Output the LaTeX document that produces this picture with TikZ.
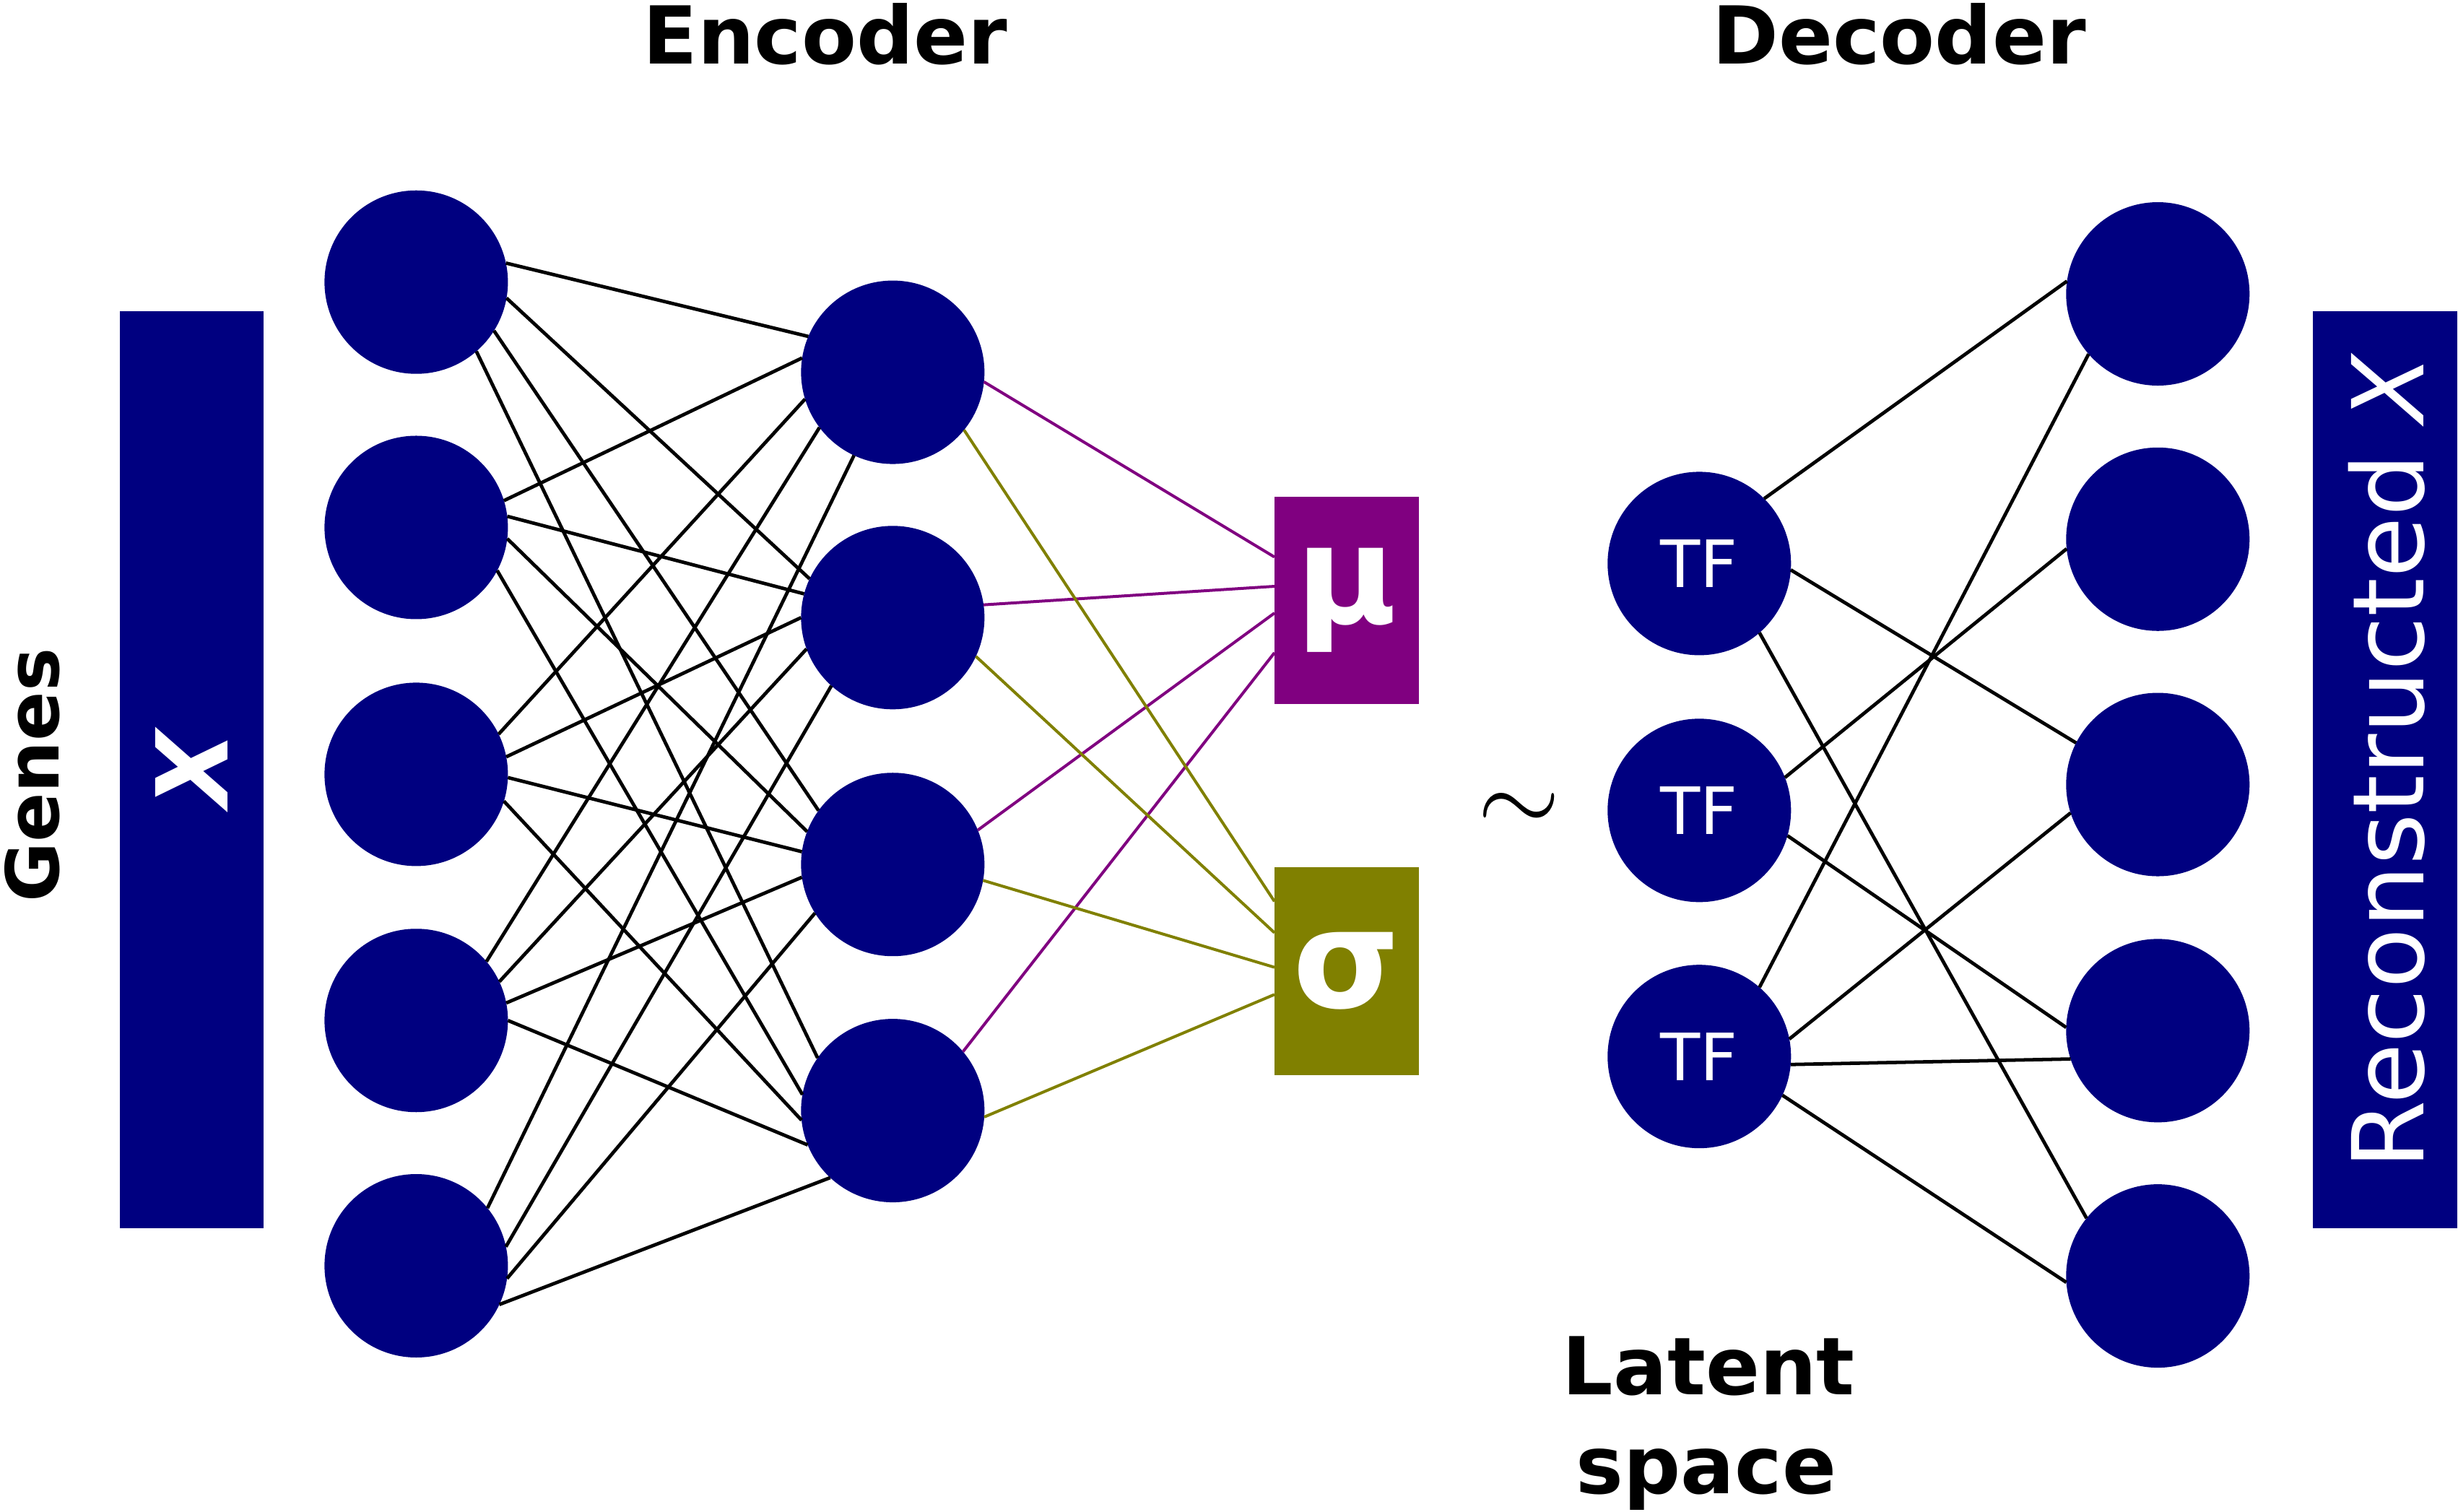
\documentclass[tikz,border=0pt]{standalone}
\usepackage{fontspec}
\setmainfont{DejaVu Sans}[BoldFont={DejaVu Sans Bold},ItalicFont={DejaVu Sans Oblique},BoldItalicFont={DejaVu Sans Bold Oblique}]
\definecolor{navy}{RGB}{0,0,128}
\definecolor{meanpurple}{RGB}{128,0,128}
\definecolor{varolive}{RGB}{128,128,0}
\begin{document}
\begin{tikzpicture}[
  unit/.style={circle, fill=navy, minimum size=2.34cm, inner sep=0pt, outer sep=0pt},
  tfunit/.style={unit, text=white, font=\fontsize{23.7}{28}\selectfont},
  statbox/.style={rectangle, minimum width=1.84cm, minimum height=2.65cm, inner sep=0pt, outer sep=0pt, text=white, font=\fontsize{50}{60}\selectfont\bfseries},
  databar/.style={rectangle, fill=navy, minimum width=1.84cm, minimum height=11.70cm, inner sep=0pt, outer sep=0pt},
  title/.style={font=\fontsize{29}{35}\selectfont\bfseries},
  link/.style={line width=1.25pt},
  statlink/.style={line width=1.05pt}
]
\useasboundingbox (0,0) rectangle (31.36,19.29);
% input and reconstruction
\node[databar] (xin) at (2.445,9.47) {};
\node[databar] (xout) at (30.43,9.47) {};
\node[rotate=90, text=white, font=\fontsize{36}{40}\selectfont\bfseries\itshape] (xlabel) at (xin.center) {X};
\node[rotate=90, text=white, font=\fontsize{36}{40}\selectfont] (reclabel) at (30.45,9.58) {Reconstructed \textit{X}};
\node[rotate=90, anchor=base, font=\fontsize{26.5}{32}\selectfont\bfseries] (genes) at (0.75,9.40) {Genes};
% titles
\node[title, anchor=base] (enc) at (10.53,18.47) {Encoder};
\node[title, anchor=base] (dec) at (24.23,18.47) {Decoder};
\node[title, anchor=base] (latent) at (21.80,1.50) {Latent};
\node[title, anchor=base] (space) at (21.77,0.23) {space};
% encoder units
\node[unit] (a1) at (5.31,15.69) {};
\node[unit] (a2) at (5.31,12.56) {};
\node[unit] (a3) at (5.31,9.41) {};
\node[unit] (a4) at (5.31,6.27) {};
\node[unit] (a5) at (5.31,3.14) {};
\node[unit] (b1) at (11.39,14.54) {};
\node[unit] (b2) at (11.39,11.41) {};
\node[unit] (b3) at (11.39,8.26) {};
\node[unit] (b4) at (11.39,5.12) {};
% latent parameters
\node[statbox, fill=meanpurple] (mu) at (17.18,11.63) {μ};
\node[statbox, fill=varolive] (sigma) at (17.18,6.90) {σ};
\node[scale=1.55, anchor=base] (tilde) at (19.38,8.67) {\Huge$\sim$};
% decoder units
\node[tfunit] (tf1) at (21.68,12.10) {TF};
\node[tfunit] (tf2) at (21.68,8.95) {TF};
\node[tfunit] (tf3) at (21.68,5.81) {TF};
\node[unit] (o1) at (27.53,15.54) {};
\node[unit] (o2) at (27.53,12.41) {};
\node[unit] (o3) at (27.53,9.28) {};
\node[unit] (o4) at (27.53,6.14) {};
\node[unit] (o5) at (27.53,3.01) {};
% encoder weights
\draw[link] (a1.12.6) -- (b1.157.3);
\draw[link] (a1.-10.5) -- (b2.155.3);
\draw[link] (a1.-32) -- (b3.144.3);
\draw[link] (a1.-49.8) -- (b4.145.2);
\draw[link] (a2.17.5) -- (b1.171.9);
\draw[link] (a2.7.7) -- (b2.165.7);
\draw[link] (a2.-7.7) -- (b3.159.7);
\draw[link] (a2.-28.4) -- (b4.170.9);
\draw[link] (a3.26.7) -- (b1.-163.4);
\draw[link] (a3.11.2) -- (b2.180);
\draw[link] (a3.-2) -- (b3.172.5);
\draw[link] (a3.-17.5) -- (b4.-174);
\draw[link] (a4.40.7) -- (b1.-143.4);
\draw[link] (a4.25.9) -- (b2.-160.4);
\draw[link] (a4.11) -- (b3.-172.2);
\draw[link] (a4.0) -- (b4.-158.5);
\draw[link] (a5.39) -- (b1.-115.7);
\draw[link] (a5.12.6) -- (b2.-132);
\draw[link] (a5.-8.2) -- (b3.-148.3);
\draw[link] (a5.-25.7) -- (b4.-133.6);
% mean and variance
\draw[statlink, meanpurple] (b1.-6.9) -- (mu.149.9);
\draw[statlink, meanpurple] (b2.8.2) -- (mu.169.2);
\draw[statlink, meanpurple] (b3.22.1) -- (mu.-170.4);
\draw[statlink, meanpurple] (b4.40.7) -- (mu.-144.3);
\draw[statlink, varolive] (b1.-39.3) -- (sigma.136.1);
\draw[statlink, varolive] (b2.-25.1) -- (sigma.152.4);
\draw[statlink, varolive] (b3.-10.9) -- (sigma.177.3);
\draw[statlink, varolive] (b4.-4) -- (sigma.-162.3);
% decoder weights
\draw[link] (tf1.45.3) -- (o1.172.6);
\draw[link] (tf1.-4.5) -- (o3.153);
\draw[link] (tf1.-49.8) -- (o5.141.2);
\draw[link] (tf2.21.3) -- (o2.-174.5);
\draw[link] (tf2.-16.6) -- (o4.178.6);
\draw[link] (tf3.49.8) -- (o1.-139.8);
\draw[link] (tf3.11.8) -- (o3.-162.6);
\draw[link] (tf3.-5.4) -- (o4.-162.7);
\draw[link] (tf3.-25) -- (o5.-176);
\end{tikzpicture}
\end{document}
